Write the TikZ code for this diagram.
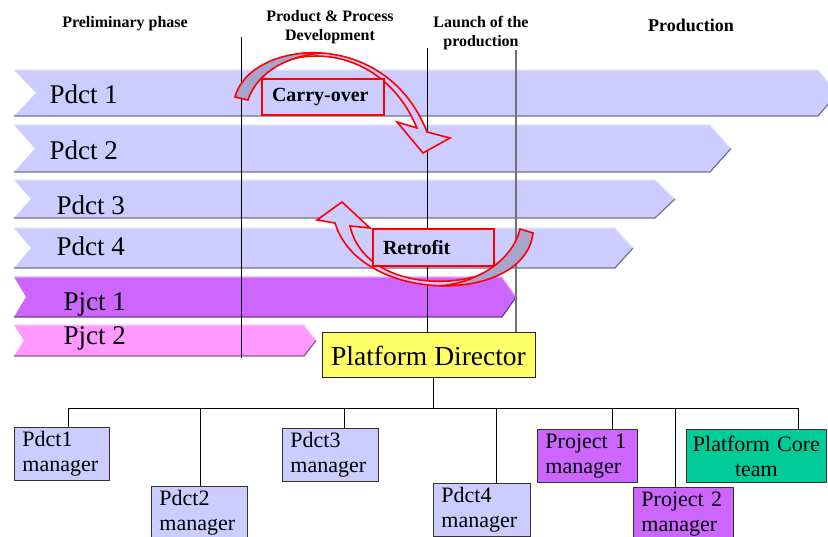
\documentclass[tikz,border=0pt]{standalone}
\usepackage{fontspec}
\setmainfont{Liberation Serif}

\definecolor{bandblue}{HTML}{CCCCFF}
\definecolor{pjctone}{HTML}{CC66FF}
\definecolor{pjcttwo}{HTML}{FF99FF}
\definecolor{backgray}{HTML}{A6A6CC}
\definecolor{dirbox}{HTML}{FFFF66}
\definecolor{coreteam}{HTML}{00CC99}

\begin{document}
\begin{tikzpicture}[
    x=1pt, y=-1pt,
    font=\fontsize{27}{31}\selectfont,
    phase/.style={
        font=\fontsize{16}{19}\selectfont\bfseries,
        align=center
    },
    bandlabel/.style={anchor=base west},
    milestone/.style={draw=black, line width=0.9pt},
    twist/.style={
        draw=red,
        fill=bandblue,
        line width=1.6pt,
        line join=miter
    },
    twistback/.style={
        draw=red,
        fill=backgray,
        line width=1.6pt
    },
    tag/.style={
        draw=red,
        fill=bandblue,
        line width=2.4pt,
        align=left,
        inner xsep=10pt,
        inner ysep=0pt,
        font=\fontsize{20}{24}\selectfont\bfseries
    },
    director/.style={
        draw=black!85,
        fill=dirbox,
        line width=1pt,
        minimum width=213pt,
        minimum height=45pt,
        inner sep=0pt,
        font=\fontsize{27.5}{31}\selectfont
    },
    mgr/.style={
        draw=black!80,
        fill=#1,
        line width=0.9pt,
        anchor=north west,
        minimum height=53pt,
        inner xsep=8pt,
        inner ysep=0pt,
        align=left,
        font=\fontsize{22}{25}\selectfont
    },
    orgline/.style={draw=black, line width=0.9pt}
]
\clip (0,0) rectangle (828,537);

% Phases
\node[phase] (prelim) at (125,24) {Preliminary phase};
\node[phase] (ppd) at (330,27) {Product \& Process\\Development};
\node[phase] (launch) at (481,33) {Launch of the\\production};
\node[phase, font=\fontsize{18}{22}\selectfont\bfseries] (production) at (691,25) {Production};

% Bands
\foreach \yt/\yb/\xe/\tip/\notch/\col in {70/116/818/20/22/bandblue, 125/172/710/21/21/bandblue, 180/218/655/20/17/bandblue, 228/268/615/18/17/bandblue, 277/317/502/14/12/pjctone, 325/356/304/12/10/pjcttwo}{
    \pgfmathsetmacro\ym{(\yt+\yb)/2}
    \fill[fill=\col] (14,\yt) -- (\xe,\yt) -- (\xe+\tip,\ym) -- (\xe,\yb) -- (14,\yb) -- (14+\notch,\ym) -- cycle;
    \draw[draw=\col!50!white, line width=1.2pt] (14,\yt) -- (\xe,\yt) -- (\xe+\tip,\ym);
    \draw[draw=\col!55!black, line width=1.2pt] (14,\yb) -- (\xe,\yb) -- (\xe+\tip,\ym);
}
\node[bandlabel] (pdct1) at (46,104) {Pdct 1};
\node[bandlabel] (pdct2) at (46,160) {Pdct 2};
\node[bandlabel] (pdct3) at (53,215) {Pdct 3};
\node[bandlabel] (pdct4) at (53,256) {Pdct 4};
\node[bandlabel] (pjct1) at (60,311) {Pjct 1};
\node[bandlabel] (pjct2) at (60,345) {Pjct 2};

% Milestones
\node[director] (director) at (428.5,355.5) {Platform Director};
\coordinate (devtop) at (241,37);
\coordinate (devbot) at (241,358);
\coordinate (launchtop) at (427,48);
\coordinate (prodtop) at (516,50);
\draw[milestone] (devtop) -- (devbot);
\draw[milestone] (launchtop) -- (launchtop |- director.north);
\draw[milestone, draw=black!55, line width=1.5pt] (prodtop) -- (prodtop |- director.north);

% Carry-over
\draw[twist] (262,78) .. controls (285,45) and (380,40) .. (417,128) -- (397,122) -- (423,153) -- (450,138) -- (427,132)
    .. controls (406,78.5) and (361.75,55.5) .. (321,53) .. controls (295,51) and (272,60) .. (262,78) -- cycle;
\draw[twistback] (235,97) .. controls (242.5,68.5) and (280,50.5) .. (321,53) .. controls (290,56) and (258,70) .. (248,100) -- cycle;
\node[tag, text width=102pt, minimum height=36pt] (carry) at (323,97) {Carry-over};

% Retrofit
\draw[twist] (335,223) -- (317,220) -- (342,202) -- (370,228) -- (350,226) .. controls (365,292) and (470,292) .. (505,262)
    .. controls (490,280) and (465,286) .. (440.4,285.8) .. controls (395,284.5) and (347.5,264) .. (335,223) -- cycle;
\draw[twistback] (533,233) .. controls (529,269) and (485.75,287) .. (440.4,285.8) .. controls (475,283) and (512,262) .. (520,229) -- cycle;
\node[tag, text width=101pt, minimum height=37pt] (retrofit) at (433.5,247.5) {Retrofit};

% Organisation
\node[mgr=bandblue, text width=79pt] (m1) at (14,427) {Pdct1\\manager};
\node[mgr=bandblue, text width=80pt] (m2) at (151,486) {Pdct2\\manager};
\node[mgr=bandblue, text width=80pt] (m3) at (282,428) {Pdct3\\manager};
\node[mgr=bandblue, text width=81pt] (m4) at (433,483) {Pdct4\\manager};
\node[mgr=pjctone, text width=84pt] (pm1) at (537,429) {Project 1\\manager};
\node[mgr=pjctone, text width=84pt] (pm2) at (633,487) {Project 2\\manager};
\node[mgr=coreteam, text width=132pt, inner xsep=4pt, align=center] (core) at (686,429) {Platform Core\\team};

\coordinate (bus) at (433,408);
\coordinate (busL) at (68,408);
\coordinate (busR) at (798,408);
\draw[orgline] (director.south -| bus) -- (bus);
\draw[orgline] (busL) -- (busR);
\foreach \m/\x in {m1/68, m2/200, m3/344, m4/496, pm1/612, pm2/675, core/798}{
    \coordinate (d\m) at (\x,408);
    \draw[orgline] (d\m) -- (d\m |- \m.north);
}

\end{tikzpicture}
\end{document}
